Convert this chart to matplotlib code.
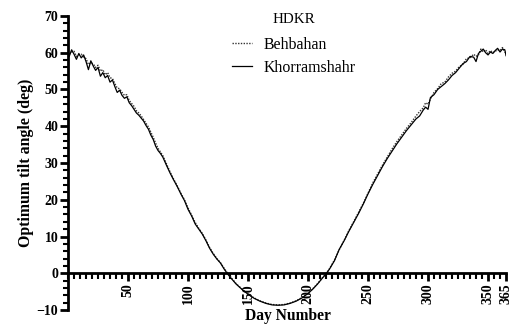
import matplotlib
matplotlib.use("Agg")
import matplotlib.pyplot as plt
from matplotlib.ticker import MultipleLocator, FixedLocator

plt.rcParams['font.family'] = ['Liberation Serif', 'DejaVu Serif']

days = [1, 3, 5, 7, 9, 11, 13, 15, 17, 19, 21, 23, 25, 27, 29, 31, 33, 35, 37, 39,
        41, 43, 45, 47, 49, 51, 53, 55, 57, 59, 61, 63, 65, 67, 69, 71, 73, 75, 77, 79,
        82, 85, 88, 91, 94, 97, 100, 103, 106, 109, 112, 115, 118, 121, 124, 127, 130,
        133, 136, 140, 145, 150, 155, 160, 165, 170, 175, 180, 185, 190, 195, 200, 204,
        208, 212, 215, 218, 222, 226, 230, 234, 238, 242, 246, 250, 254, 258, 262, 266,
        270, 274, 278, 282, 286, 290, 293, 296, 298, 300, 302, 305, 308, 311, 314, 317,
        320, 323, 326, 329, 332, 335, 338, 340, 342, 344, 346, 348, 350, 352, 354, 356,
        358, 360, 362, 364, 365]

khorramshahr = [59.0, 60.8, 59.6, 58.2, 59.8, 58.6, 59.4, 57.6, 55.4, 57.8, 56.4, 55.2,
                56.0, 53.6, 54.6, 53.2, 53.8, 52.0, 52.6, 50.8, 49.2, 49.8, 48.4, 47.6,
                48.0, 46.4, 45.6, 44.6, 43.6, 43.0, 42.2, 41.4, 40.2, 39.2, 37.6, 36.4,
                34.6, 33.4, 32.6, 31.6, 29.4, 27.3, 25.4, 23.6, 21.6, 19.8, 17.4, 15.6,
                13.4, 12.0, 10.6, 8.8, 6.8, 5.2, 3.9, 2.8, 1.2, -0.2, -1.4, -2.9, -4.4,
                -5.7, -6.8, -7.6, -8.2, -8.6, -8.7, -8.6, -8.2, -7.6, -6.7, -5.5, -4.3,
                -2.9, -1.3, -0.2, 1.2, 3.4, 6.5, 8.8, 11.4, 13.8, 16.2, 18.8, 21.6, 24.2,
                26.6, 29.0, 31.2, 33.2, 35.2, 37.0, 38.8, 40.4, 42.0, 42.8, 44.4, 45.2,
                44.6, 47.8, 48.6, 50.0, 50.8, 51.6, 52.6, 53.8, 54.6, 55.8, 57.0, 57.6,
                59.0, 58.8, 57.6, 59.8, 60.4, 61.0, 60.0, 59.4, 60.2, 59.8, 60.6, 61.2,
                60.2, 61.0, 60.8, 59.2]

behbahan = [59.6, 60.2, 60.4, 59.0, 59.4, 59.6, 58.8, 58.4, 56.8, 57.2, 57.0, 56.0,
            56.6, 55.0, 55.4, 54.0, 54.6, 53.2, 53.0, 51.6, 50.4, 50.2, 49.2, 48.4,
            48.6, 47.0, 46.2, 45.4, 44.2, 43.6, 42.8, 41.8, 40.8, 39.8, 38.4, 37.0,
            35.4, 34.0, 33.0, 32.0, 29.8, 27.6, 25.6, 23.8, 21.8, 20.0, 17.8, 15.8,
            13.8, 12.2, 10.8, 9.0, 7.0, 5.4, 4.0, 2.9, 1.4, 0.0, -1.2, -2.8, -4.3,
            -5.6, -6.7, -7.5, -8.1, -8.5, -8.6, -8.5, -8.1, -7.5, -6.6, -5.4, -4.2,
            -2.8, -1.2, -0.1, 1.3, 3.6, 6.4, 8.9, 11.6, 14.0, 16.5, 19.0, 21.8, 24.6,
            27.0, 29.4, 31.6, 33.8, 35.8, 37.6, 39.4, 41.0, 42.8, 44.0, 45.0, 46.4,
            46.0, 47.4, 49.2, 50.2, 51.6, 52.0, 53.4, 54.4, 55.0, 56.2, 56.8, 58.4,
            58.6, 59.6, 59.0, 59.4, 61.0, 60.2, 60.8, 59.8, 60.6, 60.0, 60.4, 60.8,
            60.6, 61.4, 60.2, 60.0]

x_ticks = [50, 100, 150, 200, 250, 300, 350, 365]
x_ticklabels = ['50', '100', '150', '200', '250', '300', '350', '365']
y_ticks = [-10, 0, 10, 20, 30, 40, 50, 60, 70]

fig = plt.figure(figsize=(5.13, 3.26), dpi=100)
ax = fig.add_axes([0.1326, 0.049, 0.8538, 0.902])

ax.plot(days, behbahan, linestyle=(0, (1, 1)), color='#333333', lw=1.0, label='Behbahan')
ax.plot(days, khorramshahr, linestyle='-', color='black', lw=0.9, label='Khorramshahr')

ax.set_xlim(0, 365)
ax.set_ylim(-10, 70)

ax.spines['top'].set_visible(False)
ax.spines['right'].set_visible(False)
ax.spines['bottom'].set_position(('data', 0))
ax.spines['bottom'].set_linewidth(2.0)
ax.spines['left'].set_linewidth(2.0)

ax.xaxis.set_major_locator(FixedLocator(x_ticks))
ax.set_xticklabels(x_ticklabels, rotation=90, fontweight='bold', fontsize=10)
ax.xaxis.set_minor_locator(MultipleLocator(5))
ax.yaxis.set_major_locator(FixedLocator(y_ticks))
ax.yaxis.set_minor_locator(MultipleLocator(2))
for lab in ax.get_yticklabels():
    lab.set_fontweight('bold')
    lab.set_fontsize(10)

ax.tick_params(axis='x', which='major', direction='out', length=6, width=2, pad=1)
ax.tick_params(axis='x', which='minor', direction='out', length=4, width=1.5)
ax.tick_params(axis='y', which='major', direction='out', length=6, width=2, pad=1)
ax.tick_params(axis='y', which='minor', direction='out', length=3.5, width=1.5)

ax.set_ylabel('Optimum tilt angle (deg)', fontweight='bold', fontsize=11.4, labelpad=2)
fig.text(0.561, 0.005, 'Day Number', fontweight='bold', fontsize=11.2, ha='center', va='bottom')

leg = ax.legend(loc='upper center', bbox_to_anchor=(0.516, 1.06), frameon=False,
                title='HDKR', fontsize=11.4, title_fontsize=10.8, handlelength=1.25,
                labelspacing=0.45, handletextpad=0.75)
leg._legend_box.sep = 8

fig.savefig('out.png', dpi=100)
